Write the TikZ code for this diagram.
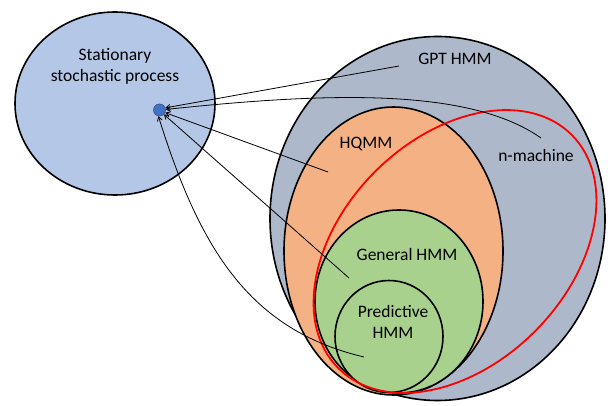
\documentclass[tikz,border=0pt]{standalone}
\usepackage{fontspec}
\setmainfont{Carlito}
\usetikzlibrary{arrows.meta}
\definecolor{procblue}{HTML}{B4C7E7}
\definecolor{gptgray}{HTML}{ADB9CA}
\definecolor{hqorange}{HTML}{F4B183}
\definecolor{hmmgreen}{HTML}{A9D18E}
\definecolor{dotblue}{HTML}{4472C4}
\definecolor{dotedge}{HTML}{2F528F}
\tikzset{
  setline/.style={draw=black, line width=1.6pt},
  lbl/.style={font=\fontsize{17.5}{21}\selectfont, align=center, inner sep=0pt},
  ptr/.style={draw=black, line width=0.8pt, -{Straight Barb[length=4pt,width=5pt]}},
}
\begin{document}
\begin{tikzpicture}[x=1pt,y=-1pt]
\useasboundingbox (0,0) rectangle (608,406);
% stationary process
\filldraw[setline, fill=procblue] (115,103.5) ellipse [x radius=100, y radius=91.5];
\node[lbl] (stat) at (115,66) {Stationary\\stochastic process};
\node[circle, fill=dotblue, draw=dotedge, line width=0.6pt, minimum size=12pt, inner sep=0pt] (dot) at (159.5,110) {};
% nested sets
\filldraw[setline, fill=gptgray] (437.5,218.5) ellipse [x radius=167.5, y radius=182];
\filldraw[setline, fill=hqorange] (393.5,251) ellipse [x radius=109.5, y radius=144];
\filldraw[setline, fill=hmmgreen] (399,301.5) ellipse [x radius=84, y radius=91.5];
\filldraw[setline, fill=hmmgreen] (389,336.5) ellipse [x radius=54, y radius=56];
\draw[red, line width=1.8pt, rotate around={45:(455,251.5)}] (455,251.5) ellipse [x radius=165, y radius=113];
% labels
\node[lbl] (gpt) at (455,59) {GPT HMM};
\node[lbl] (hqmm) at (366,144) {HQMM};
\node[lbl] (nmach) at (536,155) {n-machine};
\node[lbl] (ghmm) at (407,254) {General HMM};
\node[lbl] (phmm) at (393,322) {Predictive\\HMM};
% arrow tails
\coordinate (tgpt) at (399,66);
\coordinate (tn) at (541,138);
\coordinate (thq) at (328,172);
\coordinate (tg) at (349,278);
\coordinate (tp) at (364,357);
% arrows
\draw[ptr] (tgpt) -- (dot.20);
\draw[ptr] (tn) .. controls (470,88) and (330,92) .. (dot.5);
\draw[ptr] (thq) -- (dot.-25);
\draw[ptr] (tg) -- (dot.-45);
\draw[ptr] (tp) .. controls (250,330) and (200,250) .. (dot.-100);
\end{tikzpicture}
\end{document}
